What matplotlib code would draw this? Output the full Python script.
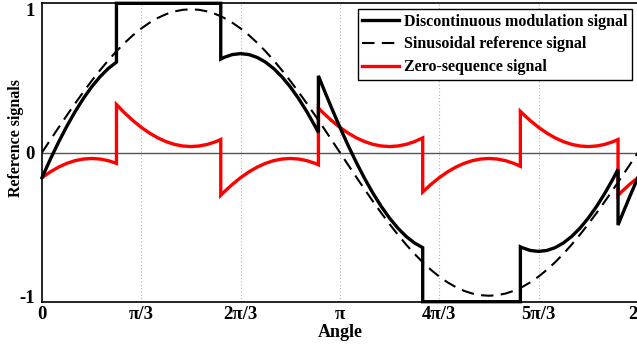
import numpy as np
import matplotlib
matplotlib.use("Agg")
import matplotlib.pyplot as plt
from matplotlib.transforms import ScaledTranslation

# ------------------------------------------------------------------ data
# angle in degrees; repeated angles mark the jumps of the DPWM signal
angle_deg = [
    0, 5, 10, 15, 20, 25, 30, 35, 40, 45,
    45, 50, 55, 60, 65, 70, 75, 80, 85, 90, 95, 100, 105, 108,
    108, 110, 115, 120, 125, 130, 135, 140, 145, 150, 155, 160, 165, 167,
    167, 170, 175, 180, 185, 190, 195, 200, 205, 210, 215, 220, 225, 230,
    230, 235, 240, 245, 250, 255, 260, 265, 270, 275, 280, 285, 289,
    289, 290, 295, 300, 305, 310, 315, 320, 325, 330, 335, 340, 345, 348,
    348, 350, 355, 360,
]

sinusoidal_ref = [
    0.0, 0.0837, 0.1667, 0.2485, 0.3283, 0.4057, 0.48, 0.5506, 0.6171, 0.6788,
    0.6788, 0.7354, 0.7864, 0.8314, 0.8701, 0.9021, 0.9273, 0.9454, 0.9563, 0.96, 0.9563, 0.9454, 0.9273, 0.913,
    0.913, 0.9021, 0.8701, 0.8314, 0.7864, 0.7354, 0.6788, 0.6171, 0.5506, 0.48, 0.4057, 0.3283, 0.2485, 0.216,
    0.216, 0.1667, 0.0837, 0.0, -0.0837, -0.1667, -0.2485, -0.3283, -0.4057, -0.48, -0.5506, -0.6171, -0.6788, -0.7354,
    -0.7354, -0.7864, -0.8314, -0.8701, -0.9021, -0.9273, -0.9454, -0.9563, -0.96, -0.9563, -0.9454, -0.9273, -0.9077,
    -0.9077, -0.9021, -0.8701, -0.8314, -0.7864, -0.7354, -0.6788, -0.6171, -0.5506, -0.48, -0.4057, -0.3283, -0.2485, -0.1996,
    -0.1996, -0.1667, -0.0837, 0.0,
]

zero_sequence = [
    -0.1686, -0.1299, -0.0979, -0.0727, -0.0546, -0.0437, -0.04, -0.0437, -0.0546, -0.0727,
    0.3212, 0.2646, 0.2136, 0.1686, 0.1299, 0.0979, 0.0727, 0.0546, 0.0437, 0.04, 0.0437, 0.0546, 0.0727, 0.087,
    -0.2866, -0.2646, -0.2136, -0.1686, -0.1299, -0.0979, -0.0727, -0.0546, -0.0437, -0.04, -0.0437, -0.0546, -0.0727, -0.082,
    0.2979, 0.2646, 0.2136, 0.1686, 0.1299, 0.0979, 0.0727, 0.0546, 0.0437, 0.04, 0.0437, 0.0546, 0.0727, 0.0979,
    -0.2646, -0.2136, -0.1686, -0.1299, -0.0979, -0.0727, -0.0546, -0.0437, -0.04, -0.0437, -0.0546, -0.0727, -0.0923,
    0.2755, 0.2646, 0.2136, 0.1686, 0.1299, 0.0979, 0.0727, 0.0546, 0.0437, 0.04, 0.0437, 0.0546, 0.0727, 0.087,
    -0.2866, -0.2646, -0.2136, -0.1686,
]

discontinuous_mod = [
    -0.1686, -0.0462, 0.0688, 0.1758, 0.2737, 0.362, 0.44, 0.5069, 0.5625, 0.6061,
    1, 1, 1, 1, 1, 1, 1, 1, 1, 1, 1, 1, 1, 1,
    0.6264, 0.6375, 0.6565, 0.6628, 0.6565, 0.6375, 0.6061, 0.5625, 0.5069, 0.44, 0.362, 0.2737, 0.1758, 0.134,
    0.5139, 0.4313, 0.2973, 0.1686, 0.0462, -0.0688, -0.1758, -0.2737, -0.362, -0.44, -0.5069, -0.5625, -0.6061, -0.6375,
    -1, -1, -1, -1, -1, -1, -1, -1, -1, -1, -1, -1, -1,
    -0.6322, -0.6375, -0.6565, -0.6628, -0.6565, -0.6375, -0.6061, -0.5625, -0.5069, -0.44, -0.362, -0.2737, -0.1758, -0.1126,
    -0.4862, -0.4313, -0.2973, -0.1686,
]

tick_labels = ["0", "π/3", "2π/3", "π", "4π/3", "5π/3", "2π"]
ytick_vals = [-1, 0, 1]
series_names = ["Discontinuous modulation signal",
                "Sinusoidal reference signal",
                "Zero-sequence signal"]

# ------------------------------------------------------------------ plot
plt.rcParams["font.family"] = ["Liberation Serif", "DejaVu Serif"]
plt.rcParams["font.weight"] = "bold"

theta = np.radians(angle_deg)
xticks = np.arange(len(tick_labels)) * np.pi / 3

fig = plt.figure(figsize=(6.37, 3.49), dpi=100)
ax = fig.add_axes([0.0659, 0.1355, 0.9355, 0.855])

for xt in xticks[1:-1]:
    ax.axvline(xt, color="#b0b0b0", lw=0.8, ls=(0, (1, 2)), zorder=0)
ax.axhline(0, color="#555555", lw=1.0, zorder=1)

ax.plot(theta, discontinuous_mod, color="black", lw=2.4, zorder=4,
        clip_on=False, solid_joinstyle="miter", label=series_names[0])
ax.plot(theta, sinusoidal_ref, color="black", lw=1.5, ls=(0, (6, 3.5)),
        zorder=3, label=series_names[1])
ax.plot(theta, zero_sequence, color="red", lw=2.4, zorder=2,
        solid_joinstyle="miter", label=series_names[2])

ax.set_xlim(0, 2 * np.pi)
ax.set_ylim(-1, 1)
ax.set_xticks(xticks)
ax.set_xticklabels(tick_labels)
ax.set_yticks(ytick_vals)
ax.set_yticklabels([str(v) for v in ytick_vals])
ax.tick_params(length=0, labelsize=13.5)
ax.tick_params(axis="x", pad=3)
ax.tick_params(axis="y", pad=5)
for lab in ax.get_xticklabels() + ax.get_yticklabels():
    lab.set_fontweight("bold")
# the end labels of the y axis sit pulled in toward the centre
ylabs = ax.get_yticklabels()
ylabs[0].set_transform(ylabs[0].get_transform() +
                       ScaledTranslation(0, 5 / 100, fig.dpi_scale_trans))
ylabs[-1].set_transform(ylabs[-1].get_transform() +
                        ScaledTranslation(0, -6 / 100, fig.dpi_scale_trans))
for sp in ax.spines.values():
    sp.set_linewidth(1.2)

ax.set_xlabel("Angle", fontsize=13, fontweight="bold", labelpad=1)
ax.set_ylabel("Reference signals", fontsize=11.5, fontweight="bold")
ax.yaxis.set_label_coords(-0.031, 0.55)

leg = ax.legend(loc="upper right", frameon=True, fancybox=False,
                edgecolor="black", framealpha=1, handlelength=2.3,
                labelspacing=0.42, borderaxespad=0.35, handletextpad=0.3,
                borderpad=0.3, prop={"weight": "bold", "size": 11.5})
leg.get_frame().set_linewidth(1.0)

fig.savefig("out.png", dpi=100)
